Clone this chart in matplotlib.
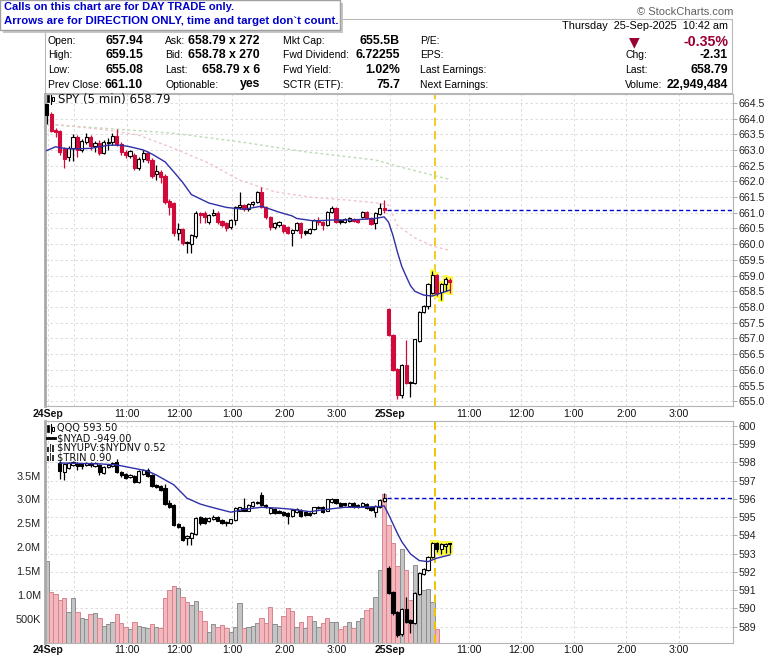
import numpy as np
import matplotlib
matplotlib.use("Agg")
import matplotlib.pyplot as plt
from matplotlib.patches import Rectangle
from matplotlib.lines import Line2D

nan = np.nan

# ------------------------------------------------------------------ data
# SPY 5-minute bars: 24 Sep (78 bars) + 25 Sep (15 bars)
spy_open = [664.46, 664.14, 663.63, 663.60, 663.03, 662.77, 663.06, 663.41, 662.99, 663.25,
            663.41, 663.12, 663.22, 662.90, 663.22, 663.25, 663.44, 663.19, 662.93, 662.80,
            662.84, 662.42, 662.71, 662.90, 662.68, 662.23, 662.30, 662.17, 661.37, 661.31,
            660.36, 660.48, 660.07, 660.00, 660.26, 660.99, 660.99, 660.71, 660.93, 660.99,
            660.74, 660.67, 660.55, 660.77, 661.18, 661.24, 661.12, 661.28, 661.34, 661.66,
            661.18, 660.86, 660.55, 660.61, 660.61, 660.55, 660.36, 660.45, 660.67, 660.42,
            660.36, 660.48, 660.77, 660.71, 660.61, 661.02, 661.15, 660.77, 660.71, 660.74,
            660.80, 660.77, 660.86, 661.02, 660.83, 660.67, 660.96, 661.15,
            657.93, 657.11, 656.02, 655.20, 656.15, 655.61, 655.58, 656.92, 657.84, 658.03,
            658.44, 659.02, 658.48, 658.73, 658.86]
spy_high = [664.46, 664.20, 663.70, 663.63, 663.09, 663.12, 663.50, 663.47, 663.34, 663.53,
            663.47, 663.28, 663.31, 663.31, 663.38, 663.53, 663.66, 663.25, 662.99, 663.00,
            662.90, 662.77, 662.99, 662.96, 662.74, 662.52, 662.36, 662.23, 661.43, 661.34,
            660.67, 660.52, 660.10, 660.32, 661.05, 661.02, 661.05, 660.96, 661.12, 661.05,
            660.77, 660.71, 660.80, 661.21, 661.66, 661.28, 661.31, 661.37, 661.69, 661.82,
            661.21, 660.90, 660.71, 660.74, 660.64, 660.58, 660.48, 660.71, 660.71, 660.45,
            660.52, 660.80, 660.86, 660.74, 661.05, 661.21, 661.18, 660.80, 660.83, 660.86,
            660.83, 660.80, 661.05, 661.05, 660.86, 661.02, 661.31, 661.40,
            657.96, 657.14, 656.05, 656.18, 656.95, 655.65, 656.98, 657.86, 658.06, 658.75,
            659.15, 659.05, 658.76, 658.95, 658.92]
spy_low = [663.83, 663.57, 663.41, 662.84, 662.42, 662.64, 662.64, 662.77, 662.93, 663.19,
           662.99, 662.93, 662.84, 662.87, 662.99, 663.15, 663.12, 662.84, 662.74, 662.74,
           662.36, 662.36, 662.61, 662.58, 662.11, 662.04, 661.94, 661.28, 660.93, 660.26,
           660.13, 659.97, 659.71, 659.71, 660.20, 660.67, 660.67, 660.64, 660.90, 660.64,
           660.55, 660.42, 660.48, 660.61, 661.12, 661.05, 661.05, 661.21, 661.31, 661.15,
           660.80, 660.45, 660.48, 660.55, 660.36, 660.32, 659.94, 660.42, 660.20, 660.29,
           660.32, 660.45, 660.61, 660.45, 660.58, 660.99, 660.67, 660.64, 660.67, 660.71,
           660.71, 660.67, 660.83, 660.80, 660.61, 660.48, 660.93, 660.99,
           657.08, 655.96, 655.08, 655.10, 655.55, 655.13, 655.55, 656.90, 657.80, 657.95,
           658.40, 658.35, 658.22, 658.50, 658.44]
spy_close = [664.11, 663.60, 663.57, 662.93, 662.71, 663.06, 663.41, 662.99, 663.28, 663.41,
             663.12, 663.22, 662.90, 663.25, 663.25, 663.44, 663.19, 662.93, 662.84, 662.96,
             662.42, 662.71, 662.90, 662.68, 662.17, 662.33, 662.14, 661.34, 661.18, 660.36,
             660.48, 660.03, 660.03, 660.29, 660.99, 660.93, 660.86, 660.93, 660.99, 660.71,
             660.61, 660.51, 660.77, 661.18, 661.24, 661.12, 661.28, 661.34, 661.66, 661.18,
             660.86, 660.55, 660.67, 660.71, 660.42, 660.36, 660.45, 660.67, 660.36, 660.36,
             660.48, 660.77, 660.71, 660.61, 661.02, 661.15, 660.71, 660.71, 660.80, 660.83,
             660.74, 660.71, 661.02, 660.83, 660.64, 660.99, 661.15, 661.10,
             657.10, 655.99, 655.20, 656.15, 655.58, 655.58, 656.98, 657.84, 658.03, 658.73,
             659.02, 658.44, 658.73, 658.89, 658.79]

# moving averages on the SPY panel (bar index, value)
spy_ma_bar = [0, 2, 4, 6, 10, 14, 17, 19, 22, 24, 27, 29, 31, 33, 37, 41, 45, 49, 53, 56,
              57, 61, 65, 69, 72, 75, 77, 78, 79, 80, 81, 82, 83, 84, 86, 88, 89, 92]
spy_ma_val = [662.98, 663.10, 663.05, 663.03, 663.05, 663.15, 663.15, 663.10, 663.00, 662.87,
              662.62, 662.30, 661.97, 661.58, 661.31, 661.17, 661.11, 661.21, 661.02, 660.90,
              660.82, 660.74, 660.77, 660.77, 660.79, 660.82, 660.87, 660.70, 660.28, 659.76,
              659.30, 658.98, 658.68, 658.50, 658.38, 658.35, 658.40, 658.54]
spy_ma2_bar = [2, 14, 21, 29, 37, 44, 52, 60, 69, 76, 78, 80, 84, 88, 92]
spy_ma2_val = [663.81, 663.63, 663.47, 663.05, 662.58, 662.04, 661.67, 661.50, 661.40, 661.30,
               661.24, 660.61, 660.20, 659.94, 659.80]
spy_ma3_bar = [2, 14, 29, 44, 59, 75, 82, 92]
spy_ma3_val = [663.79, 663.68, 663.53, 663.26, 662.94, 662.68, 662.41, 662.06]

# QQQ 5-minute bars (first three hidden under the legend)
qqq_open = [nan, nan, nan, 597.97, 597.48, 597.70, 597.86, 597.97, 597.92, 597.86,
            597.97, 597.81, 597.86, 597.42, 597.75, 597.81, 598.03, 597.48, 597.37, 597.20,
            597.26, 596.93, 597.37, 597.59, 597.31, 596.77, 596.71, 596.60, 595.78, 595.67,
            594.63, 594.46, 593.86, 593.86, 594.08, 595.03, 594.96, 594.79, 594.88, 595.03,
            594.85, 594.76, 594.67, 594.85, 595.36, 595.49, 595.36, 595.61, 595.76, 596.22,
            595.67, 595.21, 595.43, 595.36, 595.30, 595.25, 595.07, 595.30, 595.39, 595.30,
            595.25, 595.21, 595.49, 595.54, 595.36, 595.85, 595.98, 595.79, 595.76, 595.61,
            595.79, 595.67, 595.61, 595.72, 595.56, 595.30, 595.56, 595.89,
            592.22, 590.91, 589.80, 588.60, 589.97, 589.36, 589.20, 590.79, 591.89, 592.11,
            592.82, 593.59, 593.26, 593.42, 593.53]
qqq_high = [nan, nan, nan, 598.08, 597.97, 598.03, 598.08, 598.03, 597.97, 598.03,
            598.03, 598.03, 597.92, 597.81, 597.92, 598.03, 598.19, 597.53, 597.42, 597.37,
            597.31, 597.59, 597.64, 597.70, 597.37, 596.82, 596.77, 596.82, 595.94, 595.72,
            594.68, 594.52, 594.02, 594.19, 595.01, 595.08, 595.01, 595.01, 595.10, 595.06,
            594.88, 594.79, 594.92, 595.53, 595.58, 596.04, 595.72, 595.90, 595.90, 596.40,
            595.72, 595.54, 595.49, 595.40, 595.36, 595.30, 595.43, 595.49, 595.45, 595.36,
            595.30, 595.58, 595.63, 595.61, 596.02, 596.05, 596.02, 595.85, 595.79, 595.83,
            595.83, 595.72, 595.85, 595.76, 595.61, 595.67, 595.98, 596.33,
            592.33, 590.96, 589.86, 590.02, 590.62, 589.41, 590.90, 591.99, 592.22, 592.88,
            593.65, 593.65, 593.59, 593.59, 593.56]
qqq_low = [nan, nan, nan, 597.09, 597.04, 597.64, 597.81, 597.59, 597.64, 597.81,
           597.75, 597.75, 597.31, 597.37, 597.70, 597.75, 597.42, 597.20, 597.09, 597.15,
           596.88, 596.88, 597.31, 597.20, 596.66, 596.60, 596.44, 595.67, 595.50, 594.52,
           594.41, 593.69, 593.48, 593.48, 594.02, 594.57, 594.63, 594.74, 594.85, 594.77,
           594.65, 594.52, 594.63, 594.81, 595.31, 595.31, 595.31, 595.56, 595.72, 595.63,
           595.52, 595.15, 595.15, 595.21, 595.06, 594.63, 595.01, 595.25, 594.99, 595.06,
           595.06, 595.15, 595.45, 595.25, 595.31, 595.80, 595.74, 595.56, 595.61, 595.56,
           595.52, 595.52, 595.56, 595.43, 595.34, 595.03, 595.50, 595.85,
           590.78, 589.64, 588.43, 588.49, 589.20, 588.65, 589.14, 590.73, 591.83, 592.05,
           592.77, 593.10, 592.98, 593.04, 593.04]
qqq_close = [nan, nan, nan, 597.53, 597.92, 597.97, 598.03, 597.81, 597.81, 597.97,
             597.86, 597.97, 597.48, 597.75, 597.86, 597.97, 597.48, 597.31, 597.15, 597.31,
             596.93, 597.53, 597.59, 597.26, 596.71, 596.66, 596.49, 595.72, 595.56, 594.57,
             594.46, 593.75, 593.97, 594.13, 594.96, 594.67, 594.68, 594.96, 595.03, 594.81,
             594.70, 594.67, 594.88, 595.50, 595.54, 595.36, 595.67, 595.85, 595.85, 595.67,
             595.58, 595.49, 595.21, 595.25, 595.12, 595.07, 595.39, 595.43, 595.07, 595.12,
             595.12, 595.54, 595.58, 595.30, 595.98, 595.98, 595.79, 595.61, 595.67, 595.79,
             595.58, 595.58, 595.79, 595.49, 595.39, 595.61, 595.94, 596.05,
             590.84, 589.73, 588.54, 589.97, 589.25, 589.20, 590.84, 591.94, 592.16, 592.82,
             593.59, 593.26, 593.53, 593.53, 593.50]
qqq_ma_bar = [3, 12, 16, 23, 25, 29, 32, 35, 37, 42, 45, 49, 53, 56, 60, 64, 68, 72, 76,
              77, 78, 80, 81, 83, 85, 87, 89, 92]
qqq_ma_val = [597.97, 597.92, 597.86, 597.53, 597.31, 596.77, 596.04, 595.72, 595.58, 595.27,
              595.43, 595.54, 595.49, 595.43, 595.30, 595.43, 595.54, 595.54, 595.58, 595.62,
              595.15, 594.12, 593.66, 592.98, 592.62, 592.56, 592.75, 592.93]

# volume (millions) and direction (1 = up / grey, 0 = down / pink)
volume = [1.72, 1.06, 1.03, 0.89, 0.94, 0.64, 0.94, 0.64, 0.52, 0.50,
          0.61, 0.62, 0.52, 0.36, 0.40, 0.43, 0.61, 0.41, 0.33, 0.30,
          0.44, 0.36, 0.33, 0.31, 0.39, 0.34, 0.31, 0.94, 1.11, 1.19,
          1.15, 0.96, 0.85, 0.80, 0.87, 0.66, 0.45, 0.24, 0.40, 0.33,
          0.38, 0.31, 0.24, 0.34, 0.83, 0.31, 0.34, 0.36, 0.42, 0.52,
          0.42, 0.76, 0.39, 0.36, 0.57, 0.73, 0.66, 0.34, 0.43, 0.31,
          0.57, 0.47, 0.34, 0.42, 0.52, 0.44, 0.44, 0.29, 0.36, 0.43,
          0.31, 0.45, 0.52, 0.69, 0.74, 0.97, 1.53, 3.11,
          2.47, 2.10, 1.61, 1.96, 1.53, 0.90, 1.63, 1.08, 1.11, 1.12,
          0.85, 0.29, nan, nan, nan]
vol_up = [1, 0, 0, 0, 0, 1, 1, 0, 1, 1, 0, 1, 0, 1, 1, 1, 0, 0, 0, 1,
          0, 1, 1, 1, 0, 1, 0, 0, 0, 0, 1, 0, 0, 1, 1, 0, 0, 1, 1, 0,
          0, 0, 1, 1, 1, 0, 1, 1, 1, 0, 0, 0, 1, 1, 0, 0, 0, 1, 0, 1,
          0, 1, 1, 0, 0, 1, 1, 0, 0, 1, 0, 1, 1, 0, 0, 1, 1, 0,
          0, 0, 0, 1, 0, 0, 1, 1, 1, 1, 1, 0, 0, 0, 0]

spy_prev_close = 661.10
qqq_prev_close = 596.05
bars_per_day = 78
bars_per_hour = 12
highlight_start = 88

spy_ticks = [655.0 + 0.5 * k for k in range(20)]
qqq_ticks = list(range(589, 601))
vol_ticks = [0.5, 1.0, 1.5, 2.0, 2.5, 3.0, 3.5]
vol_labels = ['500K', '1.0M', '1.5M', '2.0M', '2.5M', '3.0M', '3.5M']
day_labels = ['24Sep', '25Sep']
hour_labels = ['11:00', '12:00', '1:00', '2:00', '3:00']

hdr_labels = [['Open:', 'High:', 'Low:', 'Prev Close:'],
              ['Ask:', 'Bid:', 'Last:', 'Optionable:'],
              ['Mkt Cap:', 'Fwd Dividend:', 'Fwd Yield:', 'SCTR (ETF):'],
              ['P/E:', 'EPS:', 'Last Earnings:', 'Next Earnings:'],
              ['', 'Chg:', 'Last:', 'Volume:']]
hdr_values = [['657.94', '659.15', '655.08', '661.10'],
              ['658.79 x 272', '658.78 x 270', '658.79 x 6', 'yes'],
              ['655.5B', '6.72255', '1.02%', '75.7'],
              ['', '', '', ''],
              ['-0.35%', '-2.31', '658.79', '22,949,484']]
hdr_date = 'Thursday  25-Sep-2025  10:42 am'
callout = ['Calls on this chart are for DAY TRADE only.',
           'Arrows are for DIRECTION ONLY, time and target don`t count.']
spy_legend = 'SPY (5 min) 658.79'
qqq_legend = ['QQQ 593.50', '$NYAD -949.00', '$NYUPV:$NYDNV 0.52', '$TRIN 0.90']

# ------------------------------------------------------------------ figure
plt.rcParams['font.family'] = ['Liberation Sans', 'DejaVu Sans']
W, H = 780, 659
fig = plt.figure(figsize=(W / 100, H / 100), dpi=100)
fig.patch.set_facecolor('white')


def fx(x):
    return x / W


def fy(y):
    return 1 - y / H


def rect_px(x0, y0, x1, y1):
    return [fx(x0), fy(y1), (x1 - x0) / W, (y1 - y0) / H]


def prect(x0, y0, x1, y1, **kw):
    fig.add_artist(Rectangle((fx(x0), fy(y1)), (x1 - x0) / W, (y1 - y0) / H,
                             transform=fig.transFigure, **kw))


def pline(xs, ys, **kw):
    fig.add_artist(Line2D([fx(v) for v in xs], [fy(v) for v in ys],
                          transform=fig.transFigure, **kw))


RED = '#d10a3c'
BLUE_MA = '#2f2fa8'
GRID = '#d6d6d6'
XMIN, XMAX = -0.4, 156.6

ax1 = fig.add_axes(rect_px(45, 94, 733, 406), label='spy')
axv = fig.add_axes(rect_px(45, 421, 733, 643), label='vol')
ax2 = fig.add_axes(rect_px(45, 421, 733, 643), label='qqq')
ax2.patch.set_visible(False)

ax1.set_xlim(XMIN, XMAX)
ax1.set_ylim(654.85, 664.78)
ax2.set_xlim(XMIN, XMAX)
ax2.set_ylim(588.10, 600.27)
axv.set_xlim(XMIN, XMAX)
axv.set_ylim(0, 4.64)

# time grid / tick positions (bar units)
gx, gl = [], []
for d in range(2):
    base = d * bars_per_day + 0.25
    gx.append(base)
    gl.append(day_labels[d])
    if d == 0:
        gx.append(base + bars_per_hour // 2)
        gl.append('')
    for hh in range(5):
        gx.append(base + bars_per_hour + bars_per_hour // 2 + bars_per_hour * hh)
        gl.append(hour_labels[hh])

for ax in (ax1, ax2):
    ax.set_xticks(gx)
    ax.set_xticklabels(gl)
    for t in ax.get_xticklabels():
        if 'Sep' in t.get_text():
            t.set_fontweight('bold')
    ax.tick_params(axis='x', length=0, labelsize=7.6, colors='#111111')
    ax.yaxis.tick_right()
    ax.tick_params(axis='y', length=3, width=0.6, color='#9a9a9a',
                   labelsize=7.6, pad=1, labelcolor='#222222')
    for s in ax.spines.values():
        s.set_color('#b4b4b4')
        s.set_linewidth(0.8)
    ax.spines['left'].set_linewidth(2.0)
    ax.spines['left'].set_color('#a9a9a9')
ax1.tick_params(axis='x', pad=2.5)
ax2.tick_params(axis='x', pad=1.5)

ax1.set_yticks(spy_ticks)
ax1.set_yticklabels([f'{v:.1f}' for v in spy_ticks])
ax2.set_yticks(qqq_ticks)
ax2.set_yticklabels([str(v) for v in qqq_ticks])

ax1.set_axisbelow(True)
ax1.grid(True, color=GRID, lw=0.6, ls=(0, (3, 3)))

# volume axis
axv.set_xticks([])
axv.set_yticks(vol_ticks)
axv.set_yticklabels(vol_labels)
axv.tick_params(axis='y', length=0, labelsize=7.8, pad=3, labelcolor='#222222')
for s in axv.spines.values():
    s.set_visible(False)
y0, y1 = ax2.get_ylim()
for p in qqq_ticks:
    axv.axhline((p - y0) / (y1 - y0) * 4.64, color=GRID, lw=0.6, ls=(0, (3, 3)), zorder=0)
for g in gx:
    axv.axvline(g, color=GRID, lw=0.6, ls=(0, (3, 3)), zorder=0)

idx = np.arange(len(volume))
vol = np.array(volume, dtype=float)
face = ['#c4c4c4' if u else '#f2b8bd' for u in vol_up]
edge = ['#8e8e8e' if u else '#d7858e' for u in vol_up]
mask = ~np.isnan(vol)
axv.bar(idx[mask], vol[mask], width=1.0, color=[face[i] for i in idx[mask]],
        edgecolor=[edge[i] for i in idx[mask]], linewidth=0.7, zorder=1)


def candles(ax, o, h, l, c, colored, minh, pad):
    prev = None
    for i in range(len(o)):
        if np.isnan(o[i]):
            continue
        filled = c[i] < o[i]
        if colored:
            col = RED if (prev is not None and c[i] < prev) else 'black'
        else:
            col = 'black'
        if i >= highlight_start:
            ax.add_patch(Rectangle((i - 0.62, l[i] - pad), 1.24, h[i] - l[i] + 2 * pad,
                                   facecolor='#fbfb48', edgecolor='none', zorder=2))
        ax.vlines(i, l[i], h[i], colors=col, lw=0.9, zorder=3)
        bot = min(o[i], c[i])
        ht = max(abs(c[i] - o[i]), minh)
        ax.add_patch(Rectangle((i - 0.36, bot), 0.72, ht,
                               facecolor=col if filled else 'white',
                               edgecolor=col, lw=0.8, zorder=4))
        prev = c[i]


candles(ax1, spy_open, spy_high, spy_low, spy_close, True, 0.03, 0.07)
candles(ax2, qqq_open, qqq_high, qqq_low, qqq_close, False, 0.06, 0.12)

ax1.plot(spy_ma3_bar, spy_ma3_val, color='#bcdcb4', lw=1.0, ls=(0, (2, 2)), zorder=2.5)
ax1.plot(spy_ma2_bar, spy_ma2_val, color='#f0c4ca', lw=1.0, ls=(0, (2, 2)), zorder=2.5)
ax1.plot(spy_ma_bar, spy_ma_val, color=BLUE_MA, lw=1.0, zorder=5)
ax2.plot(qqq_ma_bar, qqq_ma_val, color=BLUE_MA, lw=1.0, zorder=5)

ax1.hlines(spy_prev_close, bars_per_day - 0.3, XMAX, colors='#0000cc',
           linestyles=(0, (3, 2)), lw=1.0, zorder=4)
ax2.hlines(qqq_prev_close, bars_per_day - 0.3, XMAX, colors='#0000cc',
           linestyles=(0, (3, 2)), lw=1.0, zorder=4)
for ax in (ax1, ax2):
    ax.axvline(highlight_start + 0.5, color='#f2c200', lw=1.2, ls=(0, (5, 3)), zorder=1.5)
axv.axvline(highlight_start + 0.5, color='#f2c200', lw=1.2, ls=(0, (5, 3)), zorder=2)

# ------------------------------------------------------------------ header
prect(45, 19, 732, 93, facecolor='white', edgecolor='#b8b8b8', lw=0.8, zorder=0)

renderer = fig.canvas.get_renderer()


def T(x, y, s, ha='left', size=7.5, weight='normal', color='black', family=None, z=3):
    kw = {}
    if family:
        kw['family'] = family
    return fig.text(fx(x), fy(y), s, ha=ha, va='center', fontsize=size,
                    fontweight=weight, color=color, zorder=z, usetex=False,
                    parse_math=False, **kw)


def fit(t, width):
    w = t.get_window_extent(renderer=renderer).width
    t.set_fontsize(t.get_fontsize() * width / w)


rows_y = [41.5, 55.5, 70.0, 84.5]
lab_x = [48, 165, 283, 420, 625]
val_x = [143, 260, 400, None, 728]
for ci in range(5):
    for ri in range(4):
        if hdr_labels[ci][ri]:
            T(lab_x[ci], rows_y[ri], hdr_labels[ci][ri], size=7.5)
        v = hdr_values[ci][ri]
        if v and val_x[ci] is not None:
            if ci == 4 and ri == 0:
                T(val_x[ci], rows_y[ri], v, ha='right', size=10.2, weight='bold', color='#990033')
            else:
                T(val_x[ci], rows_y[ri], v, ha='right', size=8.8, weight='bold')
T(634, 42, '\u25bc', ha='center', size=10, color='#990033', family='DejaVu Sans')
td = T(728, 26, hdr_date, ha='right', size=7.6)
fit(td, 165)
T(733, 12, '\u00a9 StockCharts.com', ha='right', size=8, color='#606060')

# callout box
prect(3, 3, 343, 32.5, facecolor='#c6c6c6', edgecolor='none', zorder=5)
prect(0, 0, 340, 29.5, facecolor='white', edgecolor='#a0a0a0', lw=1.0, zorder=6)
c1 = T(4, 7.5, callout[0], size=8.5, weight='bold', color='#0000cc', z=7)
c2 = T(4, 21.5, callout[1], size=8.5, weight='bold', color='#0000cc', z=7)
fit(c1, 229)
fit(c2, 331)

# legends
LEG_SIZE = 7.1
sl = T(58, 99, spy_legend, size=7.5, family='DejaVu Sans', color='#111111', z=8)
fit(sl, 112)
prect(47, 95, 49, 102, facecolor='black', edgecolor='black', lw=0.5, zorder=8)
pline([50.5, 50.5], [94.5, 103.5], color='black', lw=0.8, zorder=8)
prect(52, 96.5, 54, 101, facecolor='white', edgecolor='black', lw=0.7, zorder=8)

leg_y = [428.5, 438.2, 447.9, 457.4]
for k, s in enumerate(qqq_legend):
    T(57, leg_y[k], s, size=LEG_SIZE, family='DejaVu Sans', color='#111111', z=8)
# icons
prect(47, leg_y[0] - 3.5, 49, leg_y[0] + 3, facecolor='black', edgecolor='black', lw=0.5, zorder=8)
pline([50.5, 50.5], [leg_y[0] - 4.5, leg_y[0] + 4.5], color='black', lw=0.8, zorder=8)
prect(52, leg_y[0] - 2, 54, leg_y[0] + 2.5, facecolor='white', edgecolor='black', lw=0.7, zorder=8)
pline([47, 55], [leg_y[1], leg_y[1]], color='black', lw=2.0, zorder=8)
for yy in (leg_y[2], leg_y[3]):
    for bx, bh in ((47, 5), (49.5, 8), (52, 6.5)):
        prect(bx, yy + 4 - bh, bx + 1.8, yy + 4, facecolor='#333333', edgecolor='none', zorder=8)

fig.savefig('out.png', dpi=100)
